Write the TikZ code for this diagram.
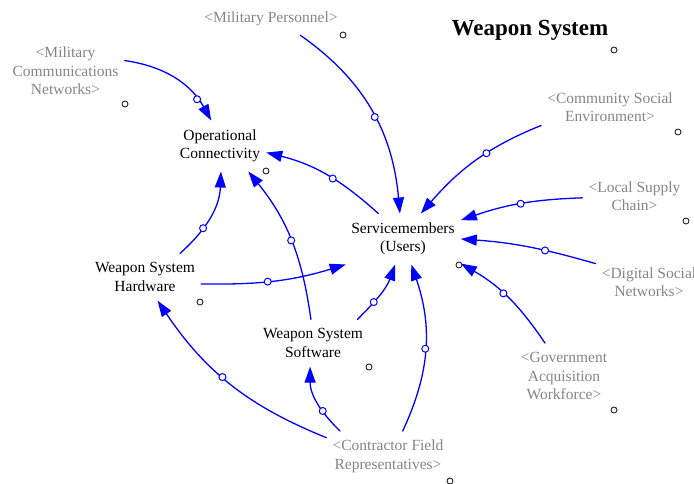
\documentclass[tikz,border=0pt]{standalone}
\usepackage{fontspec}
\setmainfont{Liberation Serif}
\usetikzlibrary{arrows.meta}
\begin{document}
\begin{tikzpicture}[x=1pt,y=1pt,line join=round,line cap=round,font=\fontsize{15.5}{18.5}\selectfont,
  var/.style={align=center,inner xsep=6pt,inner ysep=9pt},
  shadow/.style={var,text=black!48},
  link/.style={draw=blue,line width=1.3pt,-{Triangle[length=16pt,width=11pt]}},
  hole/.style={circle,draw=blue,fill=white,line width=1pt,inner sep=0pt,minimum size=7pt}]
  \useasboundingbox (0,0) rectangle (694,-483);
  \node[font=\fontsize{23}{27}\selectfont\bfseries] (title) at (530,-30) {Weapon System};
  \node[shadow] (mp) at (271,-19) {<Military Personnel>};
  \node[shadow] (mcn) at (65.5,-71) {<Military\\Communications\\Networks>};
  \node[shadow] (cse) at (610,-107) {<Community Social\\Environment>};
  \node[shadow] (lsc) at (634.5,-196) {<Local Supply\\Chain>};
  \node[shadow] (dsn) at (649,-282) {<Digital Social\\Networks>};
  \node[shadow] (gaw) at (564,-376) {<Government\\Acquisition\\Workforce>};
  \node[shadow] (cfr) at (388,-456.5) {<Contractor Field\\Representatives>};
  \node[var] (opc) at (220,-146) {Operational\\Connectivity};
  \node[var] (smu) at (403,-239) {Servicemembers\\(Users)};
  \node[var] (wsh) at (145,-277) {Weapon System\\Hardware};
  \node[var] (wss) at (313,-343) {Weapon System\\Software};
  \draw[black!85,line width=0.9pt]
  (343,-35) circle(3) (125,-104) circle(3) (266,-171) circle(3)
  (614,-50) circle(3) (678,-132) circle(3) (686,-221) circle(3)
  (459,-265) circle(3) (200,-302) circle(3) (369,-367) circle(3)
  (614,-410) circle(3) (450,-481) circle(3)
  ;
  \draw[link] (mcn.10) to[out=-8,in=119] node[hole,pos=.78]{} (opc.109);
  \draw[link] (mp.-29) to[out=-35,in=95] node[hole,pos=.53]{} (smu.97);
  \draw[link] (cse.195) to[out=202,in=49] node[hole,pos=.4]{} (smu.55);
  \draw[link] (lsc.182) to[out=182,in=19] node[hole,pos=.5]{} (smu.18);
  \draw[link] (dsn.161) to[out=164,in=-4] node[hole,pos=.37]{} (smu.0);
  \draw[link] (gaw.120) to[out=124,in=-30] node[hole,pos=.56]{} (smu.-23);
  \draw[link] (cfr.60) to[out=65,in=-71] node[hole,pos=.5]{} (smu.-72);
  \draw[link] (cfr.152) to[out=136,in=-90] node[hole,pos=.35]{} (wss.-97);
  \draw[link] (cfr.163) to[out=158,in=-56] node[hole,pos=.55]{} (wsh.-62);
  \draw[link] (wss.28) to[out=45,in=-110] node[hole,pos=.34]{} (smu.-107);
  \draw[link] (wss.95) to[out=98,in=-51] node[hole,pos=.5]{} (opc.-42);
  \draw[link] (wsh.34) to[out=42,in=-92] node[hole,pos=.35]{} (opc.-88);
  \draw[link] (wsh.-7) to[out=-1,in=-163] node[hole,pos=.45]{} (smu.204);
  \draw[link] (smu.134) to[out=138,in=-14] node[hole,pos=.44]{} (opc.-8);
\end{tikzpicture}
\end{document}
